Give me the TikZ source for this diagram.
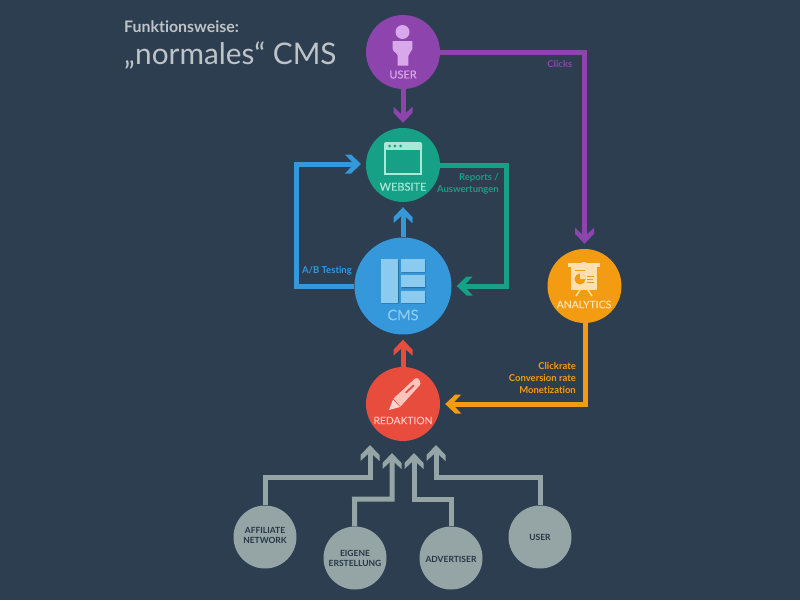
\documentclass[tikz,border=0pt]{standalone}
\usepackage{fontspec}
\setmainfont{Lato}[Ligatures=NoCommon]
\newfontfamily\hubfont{Lato}[Ligatures=NoCommon,FakeBold=0.3]
\usetikzlibrary{arrows.meta}
\definecolor{bg}{HTML}{2C3E50}
\definecolor{cpurple}{HTML}{8E44AD}
\definecolor{cteal}{HTML}{16A085}
\definecolor{cblue}{HTML}{3498DB}
\definecolor{cred}{HTML}{E74C3C}
\definecolor{corange}{HTML}{F39C12}
\definecolor{cgray}{HTML}{95A5A6}
\definecolor{lpurple}{HTML}{D7A9EA}
\definecolor{lteal}{HTML}{A9E8D6}
\definecolor{lblue}{HTML}{8CCBF0}
\definecolor{lred}{HTML}{FFC4BC}
\definecolor{lorange}{HTML}{FFE0AE}
\definecolor{ltitle}{HTML}{BDC3C7}
\pgfdeclarearrow{
  name=Chev,
  setup code={
    \pgfarrowssettipend{0pt}
    \pgfarrowssetlineend{-9pt}
    \pgfarrowssetbackend{-16pt}
    \pgfarrowssetvisualbackend{-9pt}
    \pgfarrowshullpoint{0pt}{0pt}
    \pgfarrowshullpoint{-16pt}{9.5pt}
    \pgfarrowshullpoint{-16pt}{-9.5pt}
  },
  drawing code={
    \pgfpathmoveto{\pgfqpoint{0pt}{0pt}}
    \pgfpathlineto{\pgfqpoint{-10pt}{9.5pt}}
    \pgfpathlineto{\pgfqpoint{-16pt}{9.5pt}}
    \pgfpathlineto{\pgfqpoint{-9.5pt}{2.5pt}}
    \pgfpathlineto{\pgfqpoint{-9.5pt}{-2.5pt}}
    \pgfpathlineto{\pgfqpoint{-16pt}{-9.5pt}}
    \pgfpathlineto{\pgfqpoint{-10pt}{-9.5pt}}
    \pgfpathclose
    \pgfusepathqfill
  },
  defaults={}
}
\tikzset{
  hub/.style={circle,inner sep=0pt,minimum size=74pt,fill=#1},
  bighub/.style={circle,inner sep=0pt,minimum size=97pt,fill=#1},
  source/.style={circle,inner sep=0pt,minimum size=63pt,fill=cgray},
  hublabel/.style={inner sep=0pt,font=\hubfont\fontsize{11}{13}\selectfont,text=#1},
  srclabel/.style={inner sep=0pt,align=center,font=\fontsize{8.5}{10}\selectfont\bfseries,text=bg!85!black},
  note/.style={inner sep=0pt,align=right,anchor=east,font=\fontsize{9.5}{11.6}\selectfont\bfseries,text=#1},
  link/.style={draw=#1,line width=5pt,line join=miter,shorten >=5pt,-{Chev}},
}
\begin{document}
\begin{tikzpicture}[x=1pt,y=-1pt]
\useasboundingbox[fill=bg] (0,0) rectangle (800,600);

% hubs
\node[hub=cpurple] (user) at (403,52) {};
\node[hub=cteal] (website) at (403,165) {};
\node[bighub=cblue] (cms) at (403,286) {};
\node[hub=cred] (redaktion) at (403,404) {};
\node[hub=corange] (analytics) at (584.5,286) {};
\node[source] (affiliate) at (265,537) {};
\node[source] (eigene) at (355,558) {};
\node[source] (advertiser) at (451,558) {};
\node[source] (user2) at (540,537) {};

% bend and target points
\coordinate (bendR) at (506.5,165);
\coordinate (bendL) at (296,286);
\coordinate (bendLt) at (296,164);
\coordinate (webW) at (366,164);
\coordinate (bendO) at (585,404);
\coordinate (anaS) at (585,323);
\coordinate (tipA) at (370,445);
\coordinate (tipB) at (392,453);
\coordinate (tipC) at (414,453);
\coordinate (tipD) at (436,445);
\coordinate (ta) at (265,477);
\coordinate (tb) at (354.5,499);
\coordinate (tc) at (451,499);
\coordinate (td) at (540,477);

% connectors
\draw[link=cpurple] (user) -- (website);
\draw[link=cpurple] (user) -| (analytics);
\draw[link=cteal] (website) -- (bendR) |- (cms);
\draw[link=cblue] (cms) -- (website);
\draw[link=cblue] (cms) -- (bendL) -- (bendLt) -- (webW);
\draw[link=cred] (redaktion) -- (cms);
\draw[link=corange] (anaS) -- (bendO) -- (redaktion);
\draw[link=cgray,shorten >=0pt] (affiliate) -- (ta) -| (tipA);
\draw[link=cgray,shorten >=0pt] (eigene) -- (tb) -| (tipB);
\draw[link=cgray,shorten >=0pt] (advertiser) -- (tc) -| (tipC);
\draw[link=cgray,shorten >=0pt] (user2) -- (td) -| (tipD);

% title
\node[anchor=base west,inner sep=0pt,text=ltitle,font=\fontsize{15.9}{18}\selectfont\bfseries] (t1) at (124,32) {Funktionsweise:};
\node[anchor=base west,inner sep=0pt,text=ltitle,font=\fontsize{29.8}{32}\selectfont] (t2) at (124,64) {„normales“ CMS};

% labels in circles
\node[hublabel=lpurple] (luser) at (403,74.5) {USER};
\node[hublabel=lteal] (lweb) at (403,186.7) {WEBSITE};
\node[hublabel=lblue,font=\hubfont\fontsize{14.5}{16}\selectfont] (lcms) at (403,315) {CMS};
\node[hublabel=lred,font=\hubfont\fontsize{10.3}{12}\selectfont] (lred) at (403,420.5) {REDAKTION};
\node[hublabel=lorange,font=\hubfont\fontsize{10.4}{12}\selectfont] (lana) at (584,304.5) {ANALYTICS};
\node[srclabel] (laff) at (265,535.5) {AFFILIATE\\NETWORK};
\node[srclabel] (leig) at (355,558) {EIGENE\\ERSTELLUNG};
\node[srclabel] (ladv) at (451,559) {ADVERTISER};
\node[srclabel] (lus2) at (540,537) {USER};

% notes
\node[note=cpurple] (nclicks) at (572.5,64) {Clicks};
\node[note=cteal] (nrep) at (499,184) {Reports /\\Auswertungen};
\node[note=cblue] (nab) at (352,270.5) {A/B Testing};
\node[note=corange] (nclick) at (576,378) {Clickrate\\Conversion rate\\Monetization};

% user icon
\fill[lpurple] (402.5,32) circle (7);
\fill[lpurple] (392.7,41) -- (412.3,41) -- (412.3,49) .. controls (412,52) and (408.3,53) .. (408.3,56) -- (408.3,65.5) -- (397.7,65.5) -- (397.7,56) .. controls (397.7,53) and (393,52) .. (392.7,49) -- cycle;

% website icon
\fill[lteal] (384,144) arc (180:270:2) -- (420,142) arc (270:360:2) -- (422,149.5) -- (384,149.5) -- cycle;
\draw[lteal,line width=2pt] (385,149) rectangle (421,173.5);
\fill[cteal] (389.5,146) circle (1.5) (394.8,146) circle (1.5) (400.5,146) circle (1.5);

% cms icon
\fill[cblue!75!black] (402,260) rectangle (425.5,272.7) (402,276) rectangle (425.5,288.3) (402,291.7) rectangle (425.5,303.7) (381.5,260) rectangle (399,303.7);
\fill[lblue] (380.7,259) rectangle (398.3,302.7);
\fill[lblue] (401,259) rectangle (424.7,271.7);
\fill[lblue] (401,275) rectangle (424.7,287.3);
\fill[lblue] (401,290.7) rectangle (424.7,302.7);

% pencil icon
\fill[lred] (393.5,398.5) -- (415,378.5) .. controls (416.5,377.5) and (418,378) .. (419,379.5) -- (420,381.5) .. controls (421,383) and (420.5,384.5) .. (419.5,385.5) -- (400.5,406.5) -- cycle;
\fill[lred!70!white] (393,399.5) -- (400,407) -- (389,410) -- cycle;
\draw[cred,line width=1.8pt,line cap=round] (406,392.5) -- (413.5,385.5);

% analytics icon
\fill[lorange] (567.7,263) rectangle (600,266.7);
\fill[lorange] (571,266.7) rectangle (596.7,290);
\fill[lorange] (582,261.5) rectangle (586,263);
\draw[lorange,line width=1.5pt] (580,290) -- (576,296) (588,290) -- (592,296);
\fill[corange] (575,269.8) rectangle (585,271.2);
\fill[corange] (580,279) circle (5.5);
\fill[lorange] (580,279) -- (580,273.5) arc (-90:0:5.5) -- cycle;
\draw[corange,line width=1pt] (587,276.7) -- (594,276.7) (587,279.5) -- (592.5,279.5) (587,282.4) -- (594,282.4);
\end{tikzpicture}
\end{document}
